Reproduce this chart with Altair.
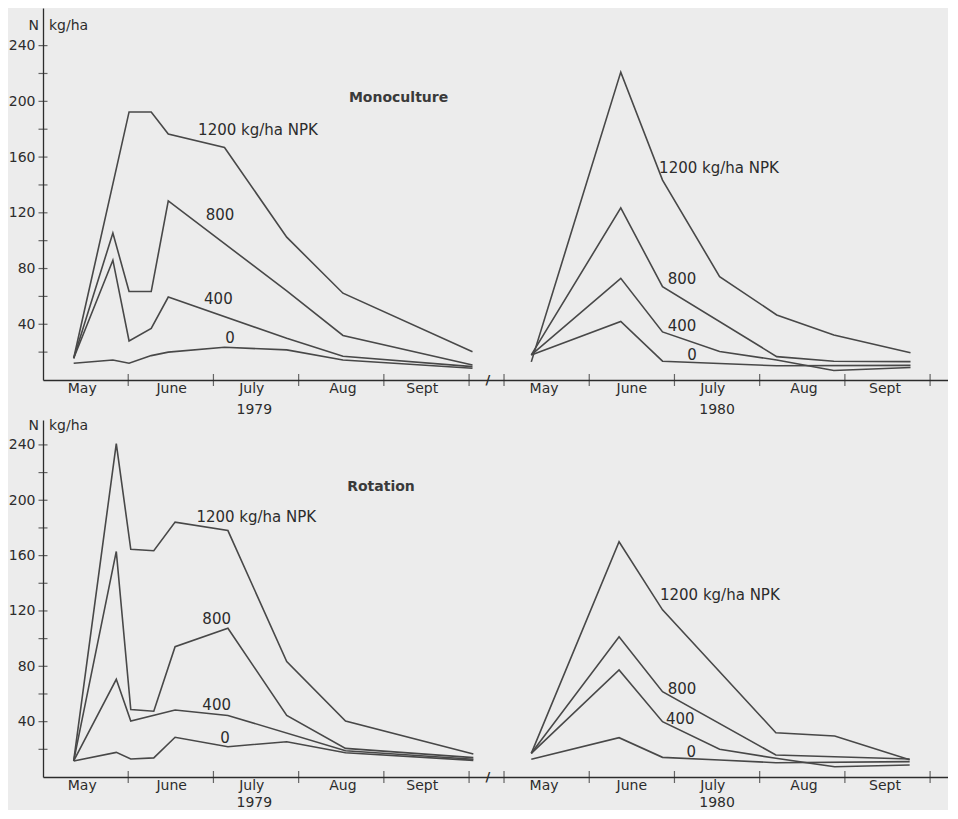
import altair as alt
import pandas as pd

FONT = "DejaVu Sans"
INK = "#2c2c2c"
LINE = "#484848"
BG = "#ececec"

SERIES = ["0", "400", "800", "1200"]

# sampling dates, in months after 1 May of each year
MONO_1979_T = [0.36, 0.82, 1.01, 1.27, 1.47, 2.13, 2.86, 3.52, 5.04]
MONO_1979 = {
    "0":    [12.0, 14.4, 12.0, 17.5, 20.0, 23.5, 21.6, 14.4, 8.4],
    "400":  [15.6, 86.0, 28.0, 37.0, 59.5, None, 30.0, 17.0, 9.6],
    "800":  [15.6, 105.5, 63.5, 63.5, 128.5, None, 64.0, 32.0, 10.8],
    "1200": [15.6, None, 192.4, 192.4, 176.5, 166.9, 102.5, 62.3, 20.3],
}
MONO_1980_T = [0.32, 1.37, 1.86, 2.53, 3.20, 3.87, 4.77]
MONO_1980 = {
    "0":    [18.0, 42.0, 13.5, None, 10.2, None, 10.5],
    "400":  [18.0, 73.0, 34.5, 20.4, 14.4, 6.8, 9.0],
    "800":  [18.0, 123.5, 67.0, None, 16.8, 13.5, 13.2],
    "1200": [13.0, 221.0, 143.5, 74.2, 46.7, 32.3, 19.6],
}
ROT_1979_T = [0.36, 0.86, 1.03, 1.30, 1.55, 2.17, 2.86, 3.55, 5.05]
ROT_1979 = {
    "0":    [11.6, 17.8, 13.0, 13.8, 28.7, 21.9, 25.5, 17.5, 12.0],
    "400":  [11.6, 70.6, 40.5, None, 48.4, 44.5, None, 19.0, 12.8],
    "800":  [11.6, 163.0, 48.7, 47.5, 94.2, 107.5, 44.5, 20.7, 14.0],
    "1200": [11.6, 241.0, 164.6, 163.5, 184.2, 178.1, 83.4, 40.5, 16.6],
}
ROT_1980_T = [0.32, 1.35, 1.86, 2.53, 3.19, 3.88, 4.76]
ROT_1980 = {
    "0":    [12.8, 28.4, 14.2, 12.3, 10.3, None, 11.1],
    "400":  [17.1, 77.4, 40.0, 20.0, 13.5, 7.4, 8.7],
    "800":  [17.1, 101.4, 61.7, None, 15.9, None, 13.0],
    "1200": [17.1, 170.0, 120.8, None, 32.0, 29.6, 12.5],
}

YEAR_OFFSET = {1979: 0.0, 1980: 5.41}   # where 1 May of each year sits on the broken axis
MONTHS = ["May", "June", "July", "Aug", "Sept"]
MONTH_POS = {1979: [0.46, 1.51, 2.45, 3.52, 4.45], 1980: [0.47, 1.50, 2.45, 3.52, 4.47]}
YEAR_POS = {1979: 2.48, 1980: 2.50}
MONTH_TICKS = {1979: [1, 2, 3, 4, 5], 1980: [0, 1, 2, 3, 4, 5]}
BREAK_POS = 5.22
Y_TICKS = [20, 40, 60, 80, 100, 120, 140, 160, 180, 200, 220, 240]
Y_LABELS = [40, 80, 120, 160, 200, 240]

# curve labels: (text, year, months, value)
MONO_LABELS = [
    ("1200 kg/ha NPK", 1979, 1.82, 179.6), ("800", 1979, 1.91, 118.6),
    ("400", 1979, 1.89, 58.0), ("0", 1979, 2.14, 30.0),
    ("1200 kg/ha NPK", 1980, 1.82, 152.3), ("800", 1980, 1.92, 72.4),
    ("400", 1980, 1.92, 38.8), ("0", 1980, 2.15, 18.0),
]
ROT_LABELS = [
    ("1200 kg/ha NPK", 1979, 1.80, 187.8), ("800", 1979, 1.87, 114.0),
    ("400", 1979, 1.87, 52.0), ("0", 1979, 2.08, 28.4),
    ("1200 kg/ha NPK", 1980, 1.83, 131.6), ("800", 1980, 1.92, 63.4),
    ("400", 1980, 1.90, 41.7), ("0", 1980, 2.14, 18.3),
]
MONO_TITLE = ("Monoculture", 3.59, 202.6)
ROT_TITLE = ("Rotation", 3.57, 209.9)
UNIT_Y = {"mono": 254.4, "rot": 253.8}

WIDTH = 905
XMAX = 10.62


def panel(t79, d79, t80, d80, labels, title, unit_y, ymax, height, year_dy):
    rows = []
    for year, t, d in [(1979, t79, d79), (1980, t80, d80)]:
        for s in SERIES:
            for ti, v in zip(t, d[s]):
                if v is not None:
                    rows.append({"pos": ti + YEAR_OFFSET[year], "n": v, "key": f"{year}-{s}"})
    lines_df = pd.DataFrame(rows)

    xs = alt.Scale(domain=[0, XMAX], nice=False, zero=False)
    ys = alt.Scale(domain=[0, ymax], nice=False, zero=True)
    xax = alt.Axis(title=None, ticks=False, labels=False, grid=False,
                   domainColor=INK, domainWidth=1.3)
    yax = alt.Axis(title=None, values=Y_LABELS, ticks=False, grid=False,
                   labelPadding=8, labelFont=FONT, labelFontSize=14,
                   labelColor=INK, domainColor=INK, domainWidth=1.3)
    X = alt.X("pos:Q", scale=xs, axis=xax)
    Y = alt.Y("n:Q", scale=ys, axis=yax)

    base_line = alt.Chart(lines_df).mark_line(color=LINE, strokeWidth=1.6).encode(
        x=X, y=Y, detail="key:N", order="pos:Q")

    ytick = alt.Chart(pd.DataFrame({"pos": [0.0] * len(Y_TICKS), "n": Y_TICKS})).mark_tick(
        orient="horizontal", size=9, thickness=1.2, color=INK).encode(x=X, y=Y)

    xt = []
    for year in (1979, 1980):
        xt += [m + YEAR_OFFSET[year] for m in MONTH_TICKS[year]]
    xtick = alt.Chart(pd.DataFrame({"pos": xt, "n": [0.0] * len(xt)})).mark_tick(
        orient="vertical", size=12, thickness=1.2, color=INK).encode(x=X, y=Y)

    mrows = []
    for year in (1979, 1980):
        for name, p in zip(MONTHS, MONTH_POS[year]):
            mrows.append({"pos": p + YEAR_OFFSET[year], "n": 0.0, "txt": name})
    months = alt.Chart(pd.DataFrame(mrows)).mark_text(
        font=FONT, fontSize=14, color=INK, baseline="top", align="center", dy=2).encode(
        x=X, y=Y, text="txt:N")

    yrows = [{"pos": YEAR_POS[y] + YEAR_OFFSET[y], "n": 0.0, "txt": str(y)} for y in (1979, 1980)]
    years = alt.Chart(pd.DataFrame(yrows)).mark_text(
        font=FONT, fontSize=14, color=INK, baseline="top", align="center", dy=year_dy).encode(
        x=X, y=Y, text="txt:N")

    lrows = [{"pos": m + YEAR_OFFSET[y], "n": v, "txt": t} for t, y, m, v in labels]
    curve_labels = alt.Chart(pd.DataFrame(lrows)).mark_text(
        font=FONT, fontSize=15, color=INK, align="left", baseline="middle").encode(
        x=X, y=Y, text="txt:N")

    ttl = alt.Chart(pd.DataFrame([{"pos": title[1], "n": title[2], "txt": title[0]}])).mark_text(
        font=FONT, fontSize=14, fontWeight="bold", color="#3a3a3a", align="left",
        baseline="middle").encode(x=X, y=Y, text="txt:N")

    unit_df = pd.DataFrame([{"pos": 0.0, "n": unit_y}])
    unit_n = alt.Chart(unit_df).mark_text(
        text="N", font=FONT, fontSize=14, color=INK, align="right", baseline="middle",
        dx=-4).encode(x=X, y=Y)
    unit_k = alt.Chart(unit_df).mark_text(
        text="kg/ha", font=FONT, fontSize=14, color=INK, align="left", baseline="middle",
        dx=6).encode(x=X, y=Y)

    brk = alt.Chart(pd.DataFrame([{"pos": BREAK_POS, "n": 0.0}])).mark_text(
        text="/", font=FONT, fontSize=13, fontWeight="bold", color=INK,
        align="center", baseline="middle").encode(x=X, y=Y)

    return alt.layer(ytick, xtick, base_line, months, years, curve_labels, ttl,
                     unit_n, unit_k, brk).properties(width=WIDTH, height=height)


top = panel(MONO_1979_T, MONO_1979, MONO_1980_T, MONO_1980, MONO_LABELS, MONO_TITLE,
            UNIT_Y["mono"], 267, 372, 23)
bottom = panel(ROT_1979_T, ROT_1979, ROT_1980_T, ROT_1980, ROT_LABELS, ROT_TITLE,
               UNIT_Y["rot"], 258, 357, 19)

chart = alt.vconcat(top, bottom, spacing=40, bounds="flush").properties(
    background=BG, padding={"left": 0, "top": 0, "right": 0, "bottom": 0}
).configure_view(stroke=None)

chart.save("out.html", embed_options={"renderer": "svg", "actions": False})
